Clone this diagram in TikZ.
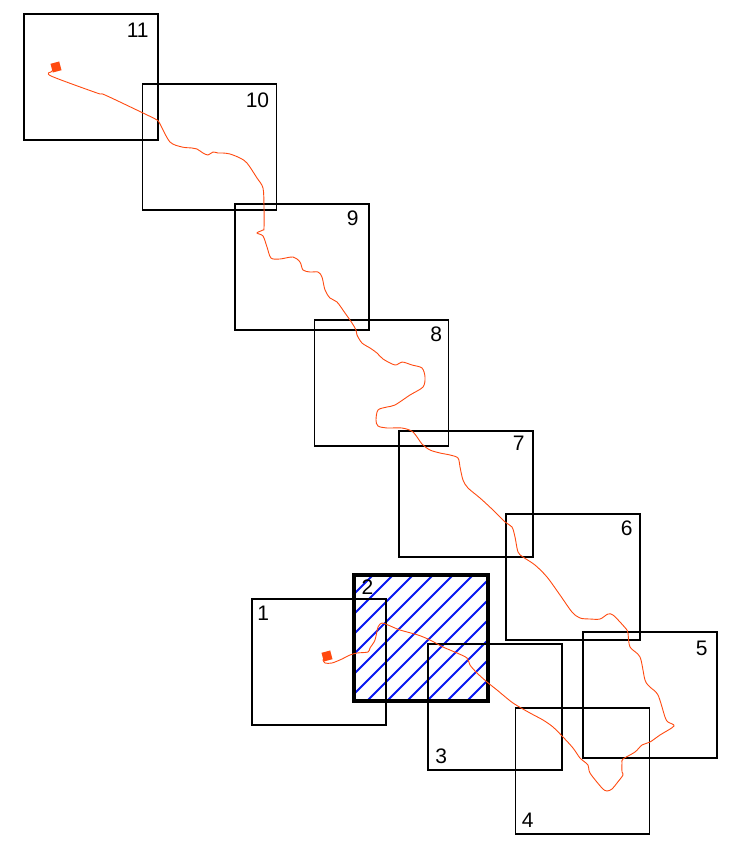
\documentclass[tikz,border=0pt]{standalone}
\usepackage{fontspec}
\setmainfont{Liberation Sans}
\usetikzlibrary{calc}
\definecolor{trackred}{HTML}{FF4A10}
\definecolor{hatchblue}{HTML}{0818F0}

\begin{document}
\begin{tikzpicture}[x=1pt,y=-1pt,
    cell/.style={draw, line width=1.7pt, minimum width=134pt, minimum height=126pt, inner sep=0pt},
    num/.style={inner sep=0pt, font=\fontsize{21}{25}\selectfont},
    dot/.style={fill=trackred, minimum size=9pt, inner sep=0pt, rotate=15},
    track/.style={draw=trackred, line width=0.9pt},
    hatch/.style={draw=hatchblue, line width=1.8pt}]
    \useasboundingbox (0,0) rectangle (732,844);

    % hatched cell
    \coordinate (h1) at (354,575);
    \coordinate (h2) at (487,701);
    \begin{scope}
      \clip (h1) rectangle (h2);
      \foreach \c in {928,948,...,1188}
        \draw[hatch] (\c-720,720) -- (\c-560,560);
    \end{scope}

    \node[cell] (b11) at (91,77) {};
    \node[cell] (b10) at (209.5,147) {};
    \node[cell] (b9) at (302,267) {};
    \node[cell] (b8) at (381.5,383) {};
    \node[cell] (b7) at (466,494) {};
    \node[cell] (b6) at (573,577) {};
    \node[cell] (b5) at (650,695) {};
    \node[cell] (b4) at (582.5,771) {};
    \node[cell] (b3) at (495,707) {};
    \node[cell, line width=4pt] (b2) at (420.5,638) {};
    \node[cell] (b1) at (319,662) {};

    \node[num, anchor=north east] at ([xshift=-10pt,yshift=-10pt]b11.north east) {11};
    \node[num, anchor=north east] at ([xshift=-8pt,yshift=-9pt]b10.north east) {10};
    \node[num, anchor=north east] at ([xshift=-11pt,yshift=-7pt]b9.north east) {9};
    \node[num, anchor=north east] at ([xshift=-7pt,yshift=-7pt]b8.north east) {8};
    \node[num, anchor=north east] at ([xshift=-9pt,yshift=-6pt]b7.north east) {7};
    \node[num, anchor=north east] at ([xshift=-8pt,yshift=-7pt]b6.north east) {6};
    \node[num, anchor=north east] at ([xshift=-10pt,yshift=-10pt]b5.north east) {5};
    \node[num, anchor=south west] at ([xshift=7pt,yshift=7pt]b4.south west) {4};
    \node[num, anchor=south west] at ([xshift=8pt,yshift=7pt]b3.south west) {3};
    \node[num, anchor=north west] at ([xshift=10pt,yshift=-7pt]b2.north west) {2};
    \node[num, anchor=north west] at ([xshift=6pt,yshift=-8pt]b1.north west) {1};

    \node[dot] (m1) at (327,656) {};
    \node[dot] (m11) at (56,67) {};

    \draw[track] (m1.center) -- plot[smooth, tension=0.5] coordinates {
      (323,660) (325,663) (332,663) (342,659) (350,655) (357,653) (368,652)
      (370,648) (375,640) (378,627) (382,623) (388,625) (400,630) (418,635)
      (430,640) (443,647) (457,653) (467,658) (470,665) (477,673) (487,682)
      (497,690) (513,703) (530,713) (543,720) (553,727) (563,737) (573,748)
      (580,758) (588,765) (590,773) (602,788) (607,791) (612,789) (617,783)
      (623,775) (622,772) (622,763) (623,759) (635,752) (642,745) (650,742)
      (660,735) (674,726) (668,722) (665,717) (658,695) (650,687) (645,680)
      (640,657) (630,647) (628,633) (627,630) (620,622) (613,615) (608,614)
      (600,619) (590,619) (580,618) (572,612) (560,595) (547,577) (535,565)
      (523,557) (518,552) (515,537) (512,527) (505,522) (493,510) (480,498)
      (468,488) (463,480) (460,467) (458,458) (450,455) (440,453) (430,450)
      (422,444) (413,432) (402,428) (387,428) (378,426) (376,420) (378,410)
      (387,407) (395,405) (410,395) (423,387) (425,377) (422,368) (412,365)
      (402,362) (395,365) (383,359) (377,353) (370,348) (362,343) (357,335)
      (356,330) (352,323) (345,313) (337,302) (330,298) (325,290) (322,277)
      (318,272) (310,272) (303,270) (300,262) (293,257) (280,259) (271,258)
      (267,247) (263,236) (257,233) (263,230) (264,228) (264,207) (263,188)
      (257,178) (247,163) (240,158) (230,154) (223,153) (218,153) (213,152)
      (208,155) (203,153) (197,149) (192,148) (182,147) (170,142) (160,124)
      (157,120) (143,113) (105,95) (97,93) (51,76) (51,72)} -- (m11.center);
  \end{tikzpicture}
\end{document}
